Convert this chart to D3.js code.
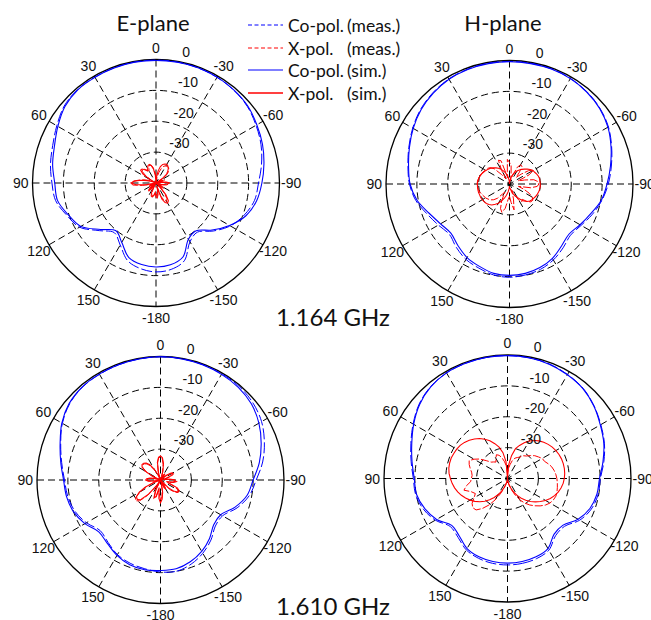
<!DOCTYPE html>
<html>
<head>
<meta charset="utf-8">
<script src="https://cdn.jsdelivr.net/npm/d3@7"></script>
<style>
  body { margin: 0; background: #fff; }
  svg { display: block; }
</style>
</head>
<body>
<svg id="chart" width="651" height="620"></svg>
<script>
// Angles (deg, 0 at top, positive counter-clockwise)
const coAngles = [-180,-170,-160,-150,-140,-130,-120,-110,-100,-90,-80,-70,-60,-50,-40,-30,-20,-10,
                  0,10,20,30,40,50,60,70,80,90,100,110,120,130,140,150,160,170];
const xAngles = [-180,-175,-170,-165,-160,-155,-150,-145,-140,-135,-130,-125,-120,-115,-110,-105,-100,-95,
                 -90,-85,-80,-75,-70,-65,-60,-55,-50,-45,-40,-35,-30,-25,-20,-15,-10,-5,
                 0,5,10,15,20,25,30,35,40,45,50,55,60,65,70,75,80,85,
                 90,95,100,105,110,115,120,125,130,135,140,145,150,155,160,165,170,175];

// Normalised gain (dB), E-plane 1.164 GHz
const e1164CoSim  = [-12.8,-13.1,-14.5,-19.0,-19.8,-16.3,-12.5,-9.0,-6.9,-5.7,-4.5,-3.3,-2.3,-1.2,-0.7,-0.4,-0.3,-0.3,
                     -0.3,-0.3,-0.4,-0.5,-0.6,-1.5,-3.3,-5.0,-6.0,-7.2,-7.6,-9.8,-11.9,-16.6,-19.8,-17.8,-14.3,-13.2];
const e1164CoMeas = [-11.2,-11.6,-13.2,-18.0,-19.2,-15.8,-12.2,-9.6,-7.6,-6.8,-5.3,-3.8,-2.6,-1.4,-0.8,-0.5,-0.3,-0.2,
                     -0.2,-0.2,-0.3,-0.4,-0.5,-1.2,-2.9,-4.4,-5.3,-6.3,-7.0,-9.3,-11.4,-16.0,-19.0,-16.8,-13.2,-11.8];
const e1164XSim = [-35.5,-35.2,-36.2,-38.5,-34.5,-33.0,-32.5,-33.0,-35.0,-38.0,-40,-38.5,-37.5,-38.5,-40,-38.5,-37.2,-36.2,
                   -35.8,-37,-40,-38.5,-37.5,-38.5,-40,-37.5,-35.5,-34.6,-33.8,-33.3,-33.0,-33.2,-33.6,-34.5,-36,-38,
                   -40,-37.5,-35.5,-34.2,-33.6,-33.8,-34.6,-35.2,-34.4,-33.6,-33.5,-34.8,-37.5,-40,-38.5,-37,-35,-33,
                   -32,-33.5,-37,-40,-38.5,-37.5,-38.5,-40,-37.5,-36.5,-37.5,-40,-38.5,-36.5,-35.5,-35.3,-36,-37];
const e1164XMeas = [-36.5,-35.8,-37,-39,-35.5,-33.8,-33.2,-33.8,-36,-39,-38,-37,-38,-40,-38.5,-37.5,-36.5,-35.9,
                    -35.6,-36.5,-39,-37.5,-37,-39,-38.5,-36.5,-35,-34.2,-33.6,-33.5,-33.6,-34,-35,-36.5,-38,-40,
                    -38.5,-36.5,-35,-34,-33.8,-34.5,-35.5,-35,-34.2,-33.8,-34.2,-36,-38.5,-39,-37.5,-36,-34.5,-32.8,
                    -31.8,-32.5,-35.5,-38.5,-39,-38,-37.5,-38.5,-39,-37,-36.5,-38.5,-39.5,-37.5,-36,-35.6,-35.8,-36.5];

// H-plane 1.164 GHz
const h1164CoSim  = [-10.4,-10.6,-11.2,-12.2,-13.8,-14.8,-13.6,-12.0,-9.8,-8.4,-6.8,-5.0,-3.2,-1.9,-1.1,-0.6,-0.4,-0.4,
                     -0.4,-0.4,-0.5,-0.8,-1.6,-2.6,-4.0,-5.5,-6.8,-7.8,-9.6,-12.3,-14.2,-15.2,-14.0,-12.5,-11.6,-10.6];
const h1164CoMeas = [-9.8,-10.1,-10.6,-11.6,-13.0,-14.2,-13.2,-11.4,-9.6,-8.0,-6.5,-4.8,-3.0,-1.8,-1.0,-0.5,-0.3,-0.3,
                     -0.3,-0.3,-0.4,-0.7,-1.4,-2.4,-3.8,-5.3,-6.6,-7.6,-9.2,-11.6,-13.4,-14.6,-13.2,-11.8,-11.0,-10.1];
const h1164XSim = [-39.3,-38.8,-38.4,-37.5,-36.7,-35.8,-35.0,-34.0,-32.8,-32.0,-31.4,-31.1,-30.9,-30.6,-30.4,-30.2,-30.1,-30.0,
                   -30.0,-30.1,-30.1,-30.3,-30.6,-31.0,-31.2,-31.8,-32.5,-33.2,-33.8,-34.5,-35.1,-35.9,-36.7,-37.5,-38.4,-39.2,
                   -40,-39.0,-38.0,-37.0,-36.1,-35.3,-34.5,-33.8,-33.2,-32.6,-32.0,-31.6,-31.2,-30.8,-30.4,-30.1,-29.9,-29.7,
                   -29.6,-29.6,-29.6,-29.6,-29.7,-29.7,-29.8,-30.0,-30.2,-30.6,-31.1,-32.0,-32.8,-34.0,-35.1,-36.2,-37.4,-38.5];
const h1164XMeas = [-36,-34,-31.5,-35,-38,-36,-34,-33,-33.5,-32,-31,-30.8,-31.5,-33,-35,-37,-33,-31,
                    -30.5,-30.8,-32,-35,-37,-33,-31,-32.5,-35,-37,-35,-33,-32.8,-34,-37,-39,-37,-34,
                    -33,-32,-36,-38,-32,-31.5,-35,-38,-36,-33,-31.8,-31.2,-31,-30.6,-30.3,-30,-29.8,-29.6,
                    -29.5,-29.6,-29.8,-30,-30.4,-30.8,-31,-31.5,-32,-32.8,-34,-36,-37,-34,-31.5,-30.5,-32,-35];

// E-plane 1.610 GHz
const e1610CoSim  = [-10.7,-10.8,-11.8,-13.3,-15.3,-17.5,-17.5,-14.3,-11.5,-10.0,-7.5,-5.3,-3.2,-1.6,-0.8,-0.5,-0.3,-0.2,
                     -0.1,-0.2,-0.3,-0.4,-0.6,-1.4,-3.1,-5.4,-7.2,-8.6,-9.1,-10.0,-11.7,-13.9,-13.2,-11.8,-10.8,-10.5];
const e1610CoMeas = [-10.2,-10.0,-11.0,-12.6,-14.6,-16.8,-16.8,-13.6,-10.8,-9.0,-6.4,-4.2,-2.2,-1.0,-0.4,-0.3,-0.2,-0.1,
                     -0.1,-0.2,-0.3,-0.5,-0.7,-1.6,-3.3,-5.6,-7.5,-8.9,-9.5,-10.5,-12.3,-14.5,-13.6,-12.1,-11.3,-10.8];
const e1610XSim = [-32.6,-33.8,-36,-39,-40,-38,-36.5,-38,-40,-36.5,-34.5,-33.2,-33,-34,-37,-38,-36,-35.1,
                   -35.5,-37.5,-40,-38.5,-36.8,-35.8,-35.6,-36.5,-38.5,-40,-38.5,-37.5,-38.5,-40,-39,-37,-34.5,-32.8,
                   -32.2,-32.6,-34.5,-37.5,-40,-38,-36,-34,-32.8,-32.3,-32.2,-32.7,-34.3,-37,-40,-38,-36.5,-35.5,
                   -35.2,-36,-38,-40,-37.5,-34.5,-32,-30.5,-30.2,-31.2,-34,-38,-40,-36,-33.8,-34.5,-37.5,-34];
const e1610XMeas = [-33.5,-34.5,-37,-39.5,-39,-37,-37.2,-39,-38.5,-35.5,-33.8,-33,-33.5,-35,-37.5,-37,-35.5,-34.6,
                    -35,-36.8,-39,-37.8,-36.2,-35.3,-35.4,-36.2,-37.8,-39.5,-39,-38,-38,-39.5,-39.5,-37.5,-35,-33.2,
                    -32.5,-32.8,-34.2,-37,-39.5,-38.5,-36.5,-34.5,-33.2,-32.6,-32.4,-33,-34.6,-37,-39.5,-38.5,-37,-35.9,
                    -35.6,-36.3,-38,-39.5,-38,-35,-32.5,-30.2,-29.5,-30.5,-33.5,-37.5,-39.5,-36.5,-34.2,-34,-36.5,-35.5];

// H-plane 1.610 GHz
const h1610CoSim  = [-12.6,-12.7,-13.0,-13.8,-16.5,-16.5,-13.6,-11.6,-10.6,-10.2,-8.6,-6.8,-5.3,-3.5,-2.0,-1.2,-0.6,-0.3,
                     -0.2,-0.2,-0.3,-0.5,-1.3,-2.8,-4.9,-7.0,-8.6,-9.8,-10.1,-11.5,-13.5,-16.4,-15.7,-13.8,-13.0,-12.7];
const h1610CoMeas = [-12.0,-12.1,-12.4,-13.2,-15.8,-15.9,-13.0,-11.1,-10.2,-9.9,-8.3,-6.6,-5.1,-3.4,-1.9,-1.1,-0.5,-0.3,
                     -0.2,-0.2,-0.3,-0.5,-1.2,-2.6,-4.7,-6.7,-8.3,-9.5,-9.8,-11.0,-13.0,-15.8,-15.1,-13.3,-12.5,-12.1];
const h1610XSim = [-40,-39.6,-38.8,-37.7,-36.4,-35.0,-33.6,-32.2,-30.8,-29.5,-28.2,-27.0,-25.8,-24.7,-23.8,-23.0,-22.4,-21.9,
                   -21.6,-21.4,-21.3,-21.3,-21.4,-21.6,-21.9,-22.3,-22.8,-23.4,-24.1,-25.0,-26.0,-27.2,-28.6,-30.0,-32.5,-35.5,
                   -40,-34.5,-31.5,-29.5,-28,-26.5,-25.3,-24.2,-23.3,-22.5,-21.8,-21.3,-21.0,-20.8,-20.6,-20.6,-20.7,-21.0,
                   -21.5,-22.0,-22.6,-23.3,-24.1,-25.0,-26.0,-27.1,-28.3,-29.6,-31.0,-32.5,-34.0,-35.5,-37.0,-38.3,-39.3,-40];
const h1610XMeas = [-39.5,-39.2,-38.5,-37.5,-36,-34,-32,-30.3,-28.8,-27.5,-26.2,-25,-24.1,-23.6,-23.3,-23.4,-23.6,-23.8,
                    -24,-24.3,-24.7,-25.2,-26,-26.8,-27,-27.8,-28.5,-29.5,-30.5,-31,-32,-32.5,-33,-34,-35.5,-37,
                    -38,-36,-34.5,-33,-32,-31.5,-32.5,-33.5,-33,-32.5,-31,-29,-27.5,-26.3,-26.8,-27.5,-28.2,-28.5,
                    -28.3,-28,-26.5,-25.4,-27.5,-28.5,-27.5,-26,-25.3,-25.6,-27.3,-29.5,-32,-34.5,-36.5,-38,-39,-39.5];

// Grid and labels
const ringLevels = [-30, -20, -10];
const ringLabels = ["0", "-10", "-20", "-30"];
const ringLabelLevels = [0, -10, -20, -30];
const spokeAngles = [0, 30, 60, 90, 120, 150];
const angleTicks = [0, 30, 60, 90, 120, 150, 180, -150, -120, -90, -60, -30];
const angleTickLabels = ["0", "30", "60", "90", "120", "150", "-180", "-150", "-120", "-90", "-60", "-30"];
const legendNames = ["Co-pol.", "X-pol.", "Co-pol.", "X-pol."];
const legendKinds = ["(meas.)", "(meas.)", "(sim.)", "(sim.)"];
const planeTitles = ["E-plane", "H-plane"];
const freqLabels = ["1.164 GHz", "1.610 GHz"];

const BLUE = "#0000ff", RED = "#ff0000";
const svg = d3.select("#chart");
const R = 123.5;
const rScale = d3.scaleLinear().domain([-40, 0]).range([0, R]).clamp(true);
const toRad = d => -d * Math.PI / 180;

const panels = [
  { cx: 156, cy: 183, co: [e1164CoSim, e1164CoMeas], x: [e1164XSim, e1164XMeas] },
  { cx: 509.5, cy: 184, co: [h1164CoSim, h1164CoMeas], x: [h1164XSim, h1164XMeas] },
  { cx: 160.5, cy: 480, co: [e1610CoSim, e1610CoMeas], x: [e1610XSim, e1610XMeas] },
  { cx: 507.5, cy: 478.5, co: [h1610CoSim, h1610CoMeas], x: [h1610XSim, h1610XMeas] }
];

const coLine = d3.lineRadial().angle(d => toRad(d[0])).radius(d => rScale(d[1]))
  .curve(d3.curveCatmullRomClosed.alpha(0.5));
const xLine = d3.lineRadial().angle(d => toRad(d[0])).radius(d => rScale(d[1]))
  .curve(d3.curveLinearClosed);

panels.forEach(p => {
  const g = svg.append("g").attr("transform", `translate(${p.cx},${p.cy})`);

  // dashed grid: range rings and spokes
  g.selectAll("circle.ring").data(ringLevels).join("circle")
    .attr("r", d => rScale(d)).attr("fill", "none")
    .attr("stroke", "#000").attr("stroke-width", 1).attr("stroke-dasharray", "7,4");
  g.selectAll("line.spoke").data(spokeAngles).join("line")
    .attr("x1", d => R * Math.sin(toRad(d))).attr("y1", d => -R * Math.cos(toRad(d)))
    .attr("x2", d => -R * Math.sin(toRad(d))).attr("y2", d => R * Math.cos(toRad(d)))
    .attr("stroke", "#000").attr("stroke-width", 1).attr("stroke-dasharray", "7,4");
  g.append("circle").attr("r", R).attr("fill", "none").attr("stroke", "#000").attr("stroke-width", 1.3);

  // patterns
  const coPts = p.co.map(s => coAngles.map((a, i) => [a, s[i]]));
  const xPts = p.x.map(s => xAngles.map((a, i) => [a, s[i]]));
  g.append("path").attr("d", coLine(coPts[1])).attr("fill", "none")
    .attr("stroke", BLUE).attr("stroke-width", 1).attr("stroke-dasharray", "11,3");
  g.append("path").attr("d", coLine(coPts[0])).attr("fill", "none")
    .attr("stroke", BLUE).attr("stroke-width", 1.1);
  g.append("path").attr("d", xLine(xPts[1])).attr("fill", "none")
    .attr("stroke", RED).attr("stroke-width", 1).attr("stroke-dasharray", "8,2");
  g.append("path").attr("d", xLine(xPts[0])).attr("fill", "none")
    .attr("stroke", RED).attr("stroke-width", 1.1);

  // angle labels
  g.selectAll("text.ang").data(angleTicks).join("text")
    .attr("x", (d, i) => 1.095 * R * Math.sin(toRad(d)))
    .attr("y", (d, i) => -1.095 * R * Math.cos(toRad(d)))
    .attr("text-anchor", "middle").attr("dominant-baseline", "central")
    .attr("font-family", "Liberation Sans, Arial, sans-serif").attr("font-size", 14)
    .attr("fill", "#111").text((d, i) => angleTickLabels[i]);

  // ring labels
  const la = 8 * Math.PI / 180;
  g.selectAll("text.ring").data(ringLabelLevels).join("text")
    .attr("x", d => rScale(d) * Math.sin(la) + 9)
    .attr("y", d => -rScale(d) * Math.cos(la) - 4)
    .attr("text-anchor", "start")
    .attr("font-family", "Liberation Sans, Arial, sans-serif").attr("font-size", 14)
    .attr("fill", "#111").text((d, i) => ringLabels[i]);
});

// titles and frequency labels
const titleX = [153, 503];
planeTitles.forEach((t, i) => {
  svg.append("text").attr("x", titleX[i]).attr("y", 31).attr("text-anchor", "middle")
    .attr("font-family", "Lato, sans-serif").attr("font-size", 22).attr("fill", "#111").text(t);
});
const freqY = [326, 614.5];
freqLabels.forEach((t, i) => {
  svg.append("text").attr("x", 276).attr("y", freqY[i])
    .attr("font-family", "Lato, sans-serif").attr("font-size", 24).attr("fill", "#111").text(t);
});

// legend
const legendY = [25, 48, 70, 93];
const legendStyle = [
  { c: BLUE, dash: "4,2.5", w: 1 },
  { c: RED, dash: "4,2.5", w: 1 },
  { c: BLUE, dash: null, w: 1.2 },
  { c: "#ff4040", dash: null, w: 1.8 }
];
const lg = svg.append("g");
legendY.forEach((y, i) => {
  lg.append("line").attr("x1", 248).attr("x2", 283).attr("y1", y).attr("y2", y)
    .attr("stroke", legendStyle[i].c).attr("stroke-width", legendStyle[i].w)
    .attr("stroke-dasharray", legendStyle[i].dash);
  lg.append("text").attr("x", 288).attr("y", y).attr("dominant-baseline", "central")
    .attr("font-family", "Lato, sans-serif").attr("font-size", 17.5).attr("fill", "#111")
    .text(legendNames[i]);
  lg.append("text").attr("x", 347).attr("y", y).attr("dominant-baseline", "central")
    .attr("font-family", "Lato, sans-serif").attr("font-size", 17.5).attr("fill", "#111")
    .text(legendKinds[i]);
});
</script>
</body>
</html>
